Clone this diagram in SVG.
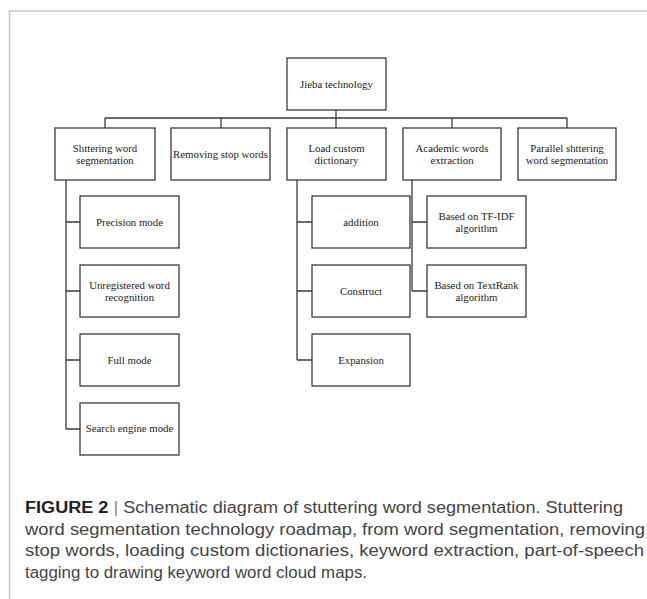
<svg xmlns="http://www.w3.org/2000/svg" width="647" height="599" viewBox="0 0 647 599">
<style>
.bx rect{fill:#fff;stroke:#3a3a3a;stroke-width:1.3}
.bx text{font-family:"Liberation Serif","Times New Roman",serif;font-size:10.8px;fill:#222;text-anchor:middle}
.cn path{fill:none;stroke:#3a3a3a;stroke-width:1.3}
.cap{font-family:"Liberation Sans",Arial,sans-serif;font-size:16px;fill:#444}
.fig{font-weight:bold;fill:#222}
</style>
<rect width="647" height="599" fill="#fff"/>
<path d="M9.5 599V11H647" fill="none" stroke="#c8c8c8" stroke-width="1.5"/>
<g class="cn">
<path d="M336 110V118M105 118H567M105 118V128M221 118V128M336 118V128M452 118V128M567 118V128"/>
<path d="M66 180V429M66 222H80M66 291H80M66 360H80M66 429H80"/>
<path d="M297 180V360M297 222H312M297 291H312M297 360H312"/>
<path d="M412 180V291M412 222H427M412 291H427"/>
</g>
<g id="root" class="bx"><rect x="287" y="58" width="99" height="52"/><text x="336.5" y="88">Jieba technology</text></g>
<g id="n1" class="bx"><rect x="55" y="128" width="100" height="52"/><text x="105" y="151.5">Shttering word</text><text x="105" y="163.5">segmentation</text></g>
<g id="n2" class="bx"><rect x="171" y="128" width="99" height="52"/><text x="220.5" y="157.5">Removing stop words</text></g>
<g id="n3" class="bx"><rect x="287" y="128" width="99" height="52"/><text x="336.5" y="151.5">Load custom</text><text x="336.5" y="163.5">dictionary</text></g>
<g id="n4" class="bx"><rect x="403" y="128" width="98" height="52"/><text x="452" y="151.5">Academic words</text><text x="452" y="163.5">extraction</text></g>
<g id="n5" class="bx"><rect x="518" y="128" width="98" height="52"/><text x="567" y="151.5">Parallel shttering</text><text x="567" y="163.5">word segmentation</text></g>
<g id="c1" class="bx"><rect x="80" y="196" width="99" height="52"/><text x="129.5" y="226">Precision mode</text></g>
<g id="c2" class="bx"><rect x="80" y="265" width="99" height="52"/><text x="129.5" y="288.5">Unregistered word</text><text x="129.5" y="300.5">recognition</text></g>
<g id="c3" class="bx"><rect x="80" y="334" width="99" height="52"/><text x="129.5" y="364">Full mode</text></g>
<g id="c4" class="bx"><rect x="80" y="403" width="99" height="52"/><text x="129.5" y="432">Search engine mode</text></g>
<g id="d1" class="bx"><rect x="312" y="196" width="98" height="52"/><text x="361" y="226">addition</text></g>
<g id="d2" class="bx"><rect x="312" y="265" width="98" height="52"/><text x="361" y="295">Construct</text></g>
<g id="d3" class="bx"><rect x="312" y="334" width="98" height="52"/><text x="361" y="364">Expansion</text></g>
<g id="e1" class="bx"><rect x="427" y="196" width="99" height="52"/><text x="476.5" y="219.5">Based on TF-IDF</text><text x="476.5" y="231.5">algorithm</text></g>
<g id="e2" class="bx"><rect x="427" y="265" width="99" height="52"/><text x="476.5" y="288.5">Based on TextRank</text><text x="476.5" y="300.5">algorithm</text></g>
<text class="cap" x="25" y="513" textLength="598" lengthAdjust="spacingAndGlyphs"><tspan class="fig">FIGURE 2</tspan> <tspan fill="#888">|</tspan> Schematic diagram of stuttering word segmentation. Stuttering</text>
<text class="cap" x="25" y="534.5" textLength="620" lengthAdjust="spacingAndGlyphs">word segmentation technology roadmap, from word segmentation, removing</text>
<text class="cap" x="25" y="556" textLength="619" lengthAdjust="spacingAndGlyphs">stop words, loading custom dictionaries, keyword extraction, part-of-speech</text>
<text class="cap" x="25" y="577.5" textLength="342" lengthAdjust="spacingAndGlyphs">tagging to drawing keyword word cloud maps.</text>
</svg>
